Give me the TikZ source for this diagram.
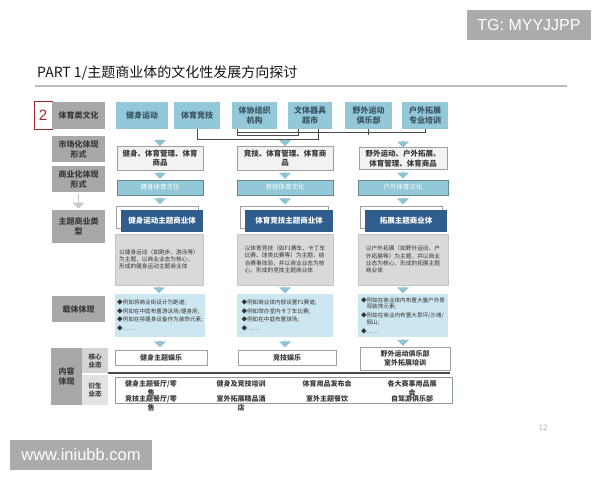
\documentclass[tikz,border=0pt]{standalone}
\usepackage{fontspec}
\setmainfont{Noto Sans CJK SC}
\newfontfamily\lat{Liberation Sans}
\usetikzlibrary{shapes.arrows,calc}
\definecolor{lblue}{HTML}{93C8D8}
\definecolor{toptext}{HTML}{3B5563}
\definecolor{dblue}{HTML}{2F5D8C}
\definecolor{labgray}{HTML}{A8A8A8}
\definecolor{labtext}{HTML}{3A3A3A}
\definecolor{mfill}{HTML}{F2F2F2}
\definecolor{mborder}{HTML}{A0A0A0}
\definecolor{dfill}{HTML}{D9D9D9}
\definecolor{dborder}{HTML}{C4C4C4}
\definecolor{cfill}{HTML}{CDE7F0}
\definecolor{arrcol}{HTML}{8EC3D6}
\definecolor{linecol}{HTML}{4A4A4A}
\definecolor{redb}{HTML}{9E2A2F}
\definecolor{tggray}{HTML}{ABABAB}
\definecolor{ruleg}{HTML}{BBBBBB}
\definecolor{pagegray}{HTML}{B5B5B5}
\definecolor{bborder}{HTML}{8A9BA8}
\newcommand{\fsz}[2]{\fontsize{#1}{#2}\selectfont}
\begin{document}
\begin{tikzpicture}[x=1pt,y=-1pt,
  box/.style={inner sep=0pt, outer sep=0pt, align=center},
  lab/.style={box, fill=labgray, text=labtext, font=\bfseries\fsz{8}{10}},
  topb/.style={box, fill=lblue, text=toptext, font=\bfseries\fsz{8}{10}, minimum height=27pt},
  mbox/.style={box, fill=mfill, draw=mborder, line width=0.6pt, text=labtext, font=\bfseries\fsz{7.5}{9.5}},
  sbox/.style={box, fill=lblue, draw=arrcol!70!black, line width=0.5pt, text=white, font=\fsz{6.5}{8}, minimum height=15pt},
  zback/.style={box, fill=white, draw=mborder, line width=0.6pt, minimum width=82pt, minimum height=22pt},
  zbox/.style={box, fill=dblue, text=white, font=\bfseries\fsz{7.5}{9}, minimum height=22pt},
  dbox/.style={box, fill=dfill, draw=dborder, line width=0.6pt, minimum height=51pt},
  dtext/.style={inner sep=0pt, align=left, text=black!80, font=\fsz{5.7}{7.3}},
  cbox/.style={box, fill=cfill, minimum height=43pt},
  ctext/.style={inner sep=0pt, align=left, text=black!80, font=\fsz{5.6}{8.6}},
  kbox/.style={box, fill=white, draw=mborder, line width=0.7pt, text=labtext, font=\bfseries\fsz{7}{9}},
  btext/.style={inner sep=0pt, align=center, text=labtext, font=\bfseries\fsz{7}{8.5}},
  darr/.style={single arrow, shape border rotate=270, fill=arrcol, draw=none, minimum height=7.5pt, minimum width=12pt, single arrow head extend=3pt, single arrow head indent=0pt, inner sep=0pt},
  garr/.style={single arrow, shape border rotate=270, fill=black!22, draw=none, minimum height=15pt, minimum width=12pt, single arrow head extend=2.5pt, single arrow head indent=0pt, inner sep=0pt},
  conn/.style={draw=linecol, line width=0.8pt}
]
\useasboundingbox (0,0) rectangle (600,480);
\fill[white] (0,0) rectangle (600,480);

% header / footer
\node[box, fill=tggray, text=white, font=\lat\fsz{16}{16}, minimum width=124pt, minimum height=30pt] (tg) at (529,25) {TG: MYYJJPP};
\node[box, fill=tggray, text=white, font=\lat\fsz{16.5}{16.5}, minimum width=142pt, minimum height=30pt] (www) at (81,455) {www.iniubb.com};
\node[anchor=west, inner sep=0pt, font=\fsz{14}{14}, text=black!92] (title) at (37,73) {PART 1/主题商业体的文化性发展方向探讨};
\coordinate (tl0) at (35,86);
\coordinate (tl1) at (567,86);
\draw[line width=1.5pt, ruleg] (tl0) -- (tl1);
\node[inner sep=0pt, font=\lat\fsz{8}{8}, text=pagegray] (pg) at (543,428) {12};

% left labels
\node[box, draw=redb, line width=1pt, fill=white, minimum width=18pt, minimum height=28pt, text=redb, font=\lat\fsz{15}{15}] (two) at (43,115.5) {2};
\node[lab, minimum width=53pt, minimum height=27pt] (L1) at (78.5,115.5) {体育类文化};
\node[lab, minimum width=53pt, minimum height=26pt] (L2) at (78.5,149) {市场化体现\\形式};
\node[lab, minimum width=53pt, minimum height=26pt] (L3) at (78.5,179) {商业化体现\\形式};
\node[lab, minimum width=53pt, minimum height=33pt] (L4) at (78.5,226.5) {主题商业类\\型};
\node[lab, minimum width=53pt, minimum height=26pt] (L5) at (78.5,309) {载体体现};
\node[lab, minimum width=31pt, minimum height=57pt] (L6) at (66.5,376.5) {内容\\体现};
\node[lab, fill=black!17, font=\bfseries\fsz{6.5}{8}, minimum width=26pt, minimum height=25pt] (L7) at (95,360.5) {核心\\业态};
\node[lab, fill=black!11, font=\bfseries\fsz{6.5}{8}, minimum width=26pt, minimum height=30pt] (L8) at (95,390) {衍生\\业态};
\node[garr] (ga) at ($(L3.south)!0.5!(L4.north)$) {};

% top row
\node[topb, minimum width=52pt] (t1) at (142,115.5) {健身运动};
\node[topb, minimum width=46pt] (t2) at (197,115.5) {体育竞技};
\node[topb, minimum width=45pt] (t3) at (254.5,115.5) {体协组织\\机构};
\node[topb, minimum width=44pt] (t4) at (310,115.5) {文体器具\\超市};
\node[topb, minimum width=47pt] (t5) at (368.5,115.5) {野外运动\\俱乐部};
\node[topb, minimum width=46pt] (t6) at (425,115.5) {户外拓展\\专业培训};

% connectors between top boxes
\draw[conn] (t2.south) -- ++(0,10) -| ($(t4.south east)+(-14,0)$);
\draw[conn] ($(t3.south west)+(5,0)$) -- ++(0,6) -| ($(t4.south west)+(10,0)$);
\draw[conn] ($(t3.south west)+(5,0)$) -- ++(0,3) -| (t6.south);
\draw[conn] (t5.south) -- ++(0,6);

% market row
\node[mbox, minimum width=86pt, minimum height=24pt] (m1) at (160,158) {健身、体育管理、体育\\商品};
\node[mbox, minimum width=96pt, minimum height=24pt] (m2) at (285,158) {竞技、体育管理、体育商\\品};
\node[mbox, minimum width=88pt, minimum height=22pt] (m3) at (403,158.5) {野外运动、户外拓展、\\体育管理、体育商品};
\node[darr] (a11) at ($(m1.north)+(0,-3.8)$) {};
\node[darr] (a12) at ($(m2.north)+(0,-3.8)$) {};
\node[darr] (a13) at ($(m3.north)+(0,-3.8)$) {};

% commercial row
\node[sbox, minimum width=86pt] (s1) at (160,187.5) {健身体育文化};
\node[sbox, minimum width=96pt] (s2) at (285,187.5) {竞技体育文化};
\node[sbox, minimum width=90pt] (s3) at (403,187.5) {户外体育文化};
\node[darr] (a21) at ($(m1.south)!0.5!(s1.north)$) {};
\node[darr] (a22) at ($(m2.south)!0.5!(s2.north)$) {};
\node[darr] (a23) at ($(m3.south)!0.5!(s3.north)$) {};

% theme row
\node[zback] (zb1) at (157,217) {};
\node[zbox, minimum width=82pt] (z1) at (162,221) {健身运动主题商业体};
\node[zback, minimum width=88pt] (zb2) at (284,217) {};
\node[zbox, minimum width=88pt] (z2) at (289,221) {体育竞技主题商业体};
\node[zback] (zb3) at (401,217) {};
\node[zbox, minimum width=82pt] (z3) at (406,221) {拓展主题商业体};
\node[darr] (a31) at ($(s1.south)!0.5!(s1.south|-zb1.north)$) {};
\node[darr] (a32) at ($(s2.south)!0.5!(s2.south|-zb2.north)$) {};
\node[darr] (a33) at ($(s3.south)!0.5!(s3.south|-zb3.north)$) {};

% description row
\node[dbox, minimum width=88pt] (d1) at (159,259.5) {};
\node[dbox, minimum width=96pt] (d2) at (285,259.5) {};
\node[dbox, minimum width=90pt] (d3) at (403,259.5) {};
\node[dtext] (dt1) at (d1) {以健身运动（如跑步、游泳等）\\为主题，以商业业态为核心，\\形成的健身运动主题商业体};
\node[dtext] (dt2) at (d2) {以体育竞技（如F1赛车、卡丁车\\比赛、球类比赛等）为主题，结\\合赛事体验，并以商业业态为核\\心，形成的竞技主题商业体};
\node[dtext] (dt3) at (d3) {以户外拓展（如野外运动、户\\外拓展等）为主题，并以商业\\业态为核心，形成的拓展主题\\商业体};

% carrier row
\node[cbox, minimum width=90pt] (c1) at (160,315.5) {};
\node[cbox, minimum width=96pt] (c2) at (285,315.5) {};
\node[cbox, minimum width=90pt] (c3) at (403,315.5) {};
\node[ctext] (ct1) at (c1) {◆例如将商业街设计为跑道;\\◆例如在中庭布置游泳场/健身房;\\◆例如在将健身设备作为装饰元素;\\◆……};
\node[ctext] (ct2) at ($(c2)+(-6,0)$) {◆例如商业体内部设置F1赛道;\\◆例如举办室内卡丁车比赛;\\◆例如在中庭布置球场;\\◆……};
\node[ctext, font=\fsz{5.6}{6.6}] (ct3) at (c3) {◆例如在商业体内布置大量户外景\\\phantom{◆}观装饰元素;\\[2.2pt]◆例如在商业内布置大草坪/沙滩/\\\phantom{◆}假山;\\[2.2pt]◆……};
\node[darr] (a41) at ($(d1.south)!0.5!(d1.south|-c1.north)$) {};
\node[darr] (a42) at ($(d2.south)!0.5!(c2.north)$) {};
\node[darr] (a43) at ($(d3.south)!0.5!(c3.north)$) {};

% core row
\node[kbox, minimum width=92pt, minimum height=15pt] (k1) at (161,357.5) {健身主题娱乐};
\node[kbox, minimum width=98pt, minimum height=15pt] (k2) at (287,357.5) {竞技娱乐};
\node[kbox, minimum width=90pt, minimum height=23pt] (k3) at (405,358.5) {野外运动俱乐部\\室外拓展培训};
\node[darr] (a51) at ($(c1.south)!0.5!(c1.south|-k1.north)$) {};
\node[darr] (a52) at ($(c2.south)!0.5!(c2.south|-k2.north)$) {};
\node[darr] (a53) at ($(c3.south)!0.5!(c3.south|-k3.north)$) {};

% divider
\draw[line width=1.6pt, linecol] (L7.south east) -- (L7.south east -| k3.east);

% derived row
\node[box, fill=white, draw=bborder, line width=0.8pt, minimum width=337pt, minimum height=26pt] (bx) at (283.5,390) {};
\node[btext, anchor=north] (b1) at (151,380.5) {健身主题餐厅/零\\售};
\node[btext, anchor=north] (b2) at (151,395.5) {竞技主题餐厅/零\\售};
\node[btext, anchor=north] (b3) at (241,380.5) {健身及竞技培训};
\node[btext, anchor=north] (b4) at (241,395.5) {室外拓展精品酒\\店};
\node[btext, anchor=north] (b5) at (327,380.5) {体育用品发布会};
\node[btext, anchor=north] (b6) at (327,395.5) {室外主题餐饮};
\node[btext, anchor=north] (b7) at (412,380.5) {各大赛事用品展\\会};
\node[btext, anchor=north] (b8) at (412,395.5) {自驾游俱乐部};
\end{tikzpicture}
\end{document}
